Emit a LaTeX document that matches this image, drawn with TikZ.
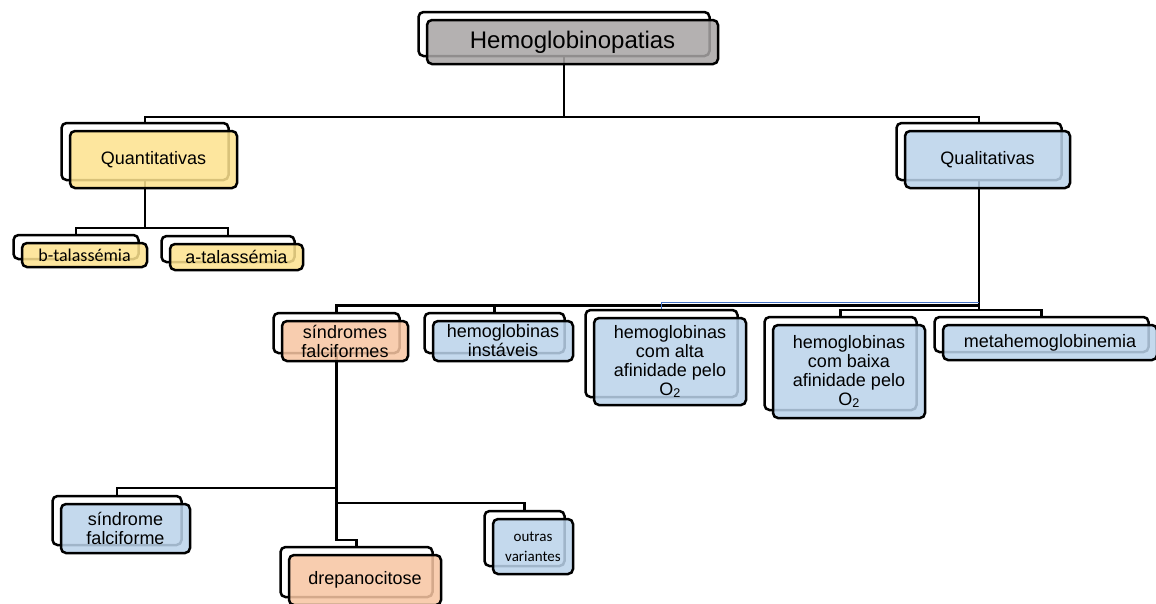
\documentclass[tikz,border=0pt]{standalone}
\usepackage{fontspec}
\setmainfont{Liberation Sans}
\newfontfamily\calibfont{Carlito}
\usetikzlibrary{backgrounds}
\definecolor{cgray}{RGB}{168,165,165}
\definecolor{cyellow}{RGB}{253,227,143}
\definecolor{cblue}{RGB}{187,211,235}
\definecolor{csalmon}{RGB}{247,197,162}
\definecolor{lineblue}{RGB}{68,114,196}
\tikzset{
  backbox/.style={draw=black, line width=2.5pt, fill=white, rounded corners=5pt, inner sep=0pt, outer sep=0pt},
  frontbox/.style={draw=black, line width=2.5pt, rounded corners=5pt, inner sep=0pt, outer sep=0pt,
    fill opacity=0.86, text opacity=1, align=center, font=\fontsize{18}{19}\selectfont},
  conn/.style={draw=black, line width=2.4pt},
  blueconn/.style={draw=lineblue, line width=1.6pt},
}
\newcommand\twobox[7]{%
  \node[backbox, minimum width=#4pt, minimum height=#5pt] (#1B) at (#2-8.5,#3-8) {};
  \node[frontbox, #6, minimum width=#4pt, minimum height=#5pt] (#1) at (#2,#3) {#7};
}
\begin{document}
\begin{tikzpicture}[x=1pt,y=-1pt]
\useasboundingbox (0,0) rectangle (1156,603);

\twobox{hemo}{572.5}{42}{291}{44}{fill=cgray, font=\fontsize{24}{26}\selectfont}{Hemoglobinopatias}
\twobox{quant}{153.5}{159.5}{167}{57}{fill=cyellow}{Quantitativas}
\twobox{qual}{987.5}{159.5}{165}{57}{fill=cblue}{Qualitativas}
\twobox{btal}{84.5}{255}{125}{24}{fill=cyellow, font=\calibfont\fontsize{18}{20}\selectfont}{b-talassémia}
\twobox{atal}{236.5}{257}{133}{26}{fill=cyellow}{a-talassémia}
\twobox{sf}{345}{341}{126}{40}{fill=csalmon}{síndromes\\falciformes}
\twobox{inst}{503}{341}{140}{40}{fill=cblue}{hemoglobinas\\instáveis}
\twobox{alta}{670}{361.5}{152}{87}{fill=cblue}{hemoglobinas\\com alta\\afinidade pelo\\O\textsubscript{2}}
\twobox{baixa}{849}{371.5}{152}{93}{fill=cblue}{hemoglobinas\\com baixa\\afinidade pelo\\O\textsubscript{2}}
\twobox{meta}{1050}{342.5}{214}{35}{fill=cblue}{metahemoglobinemia}
\twobox{sfm}{125.5}{528.5}{129}{49}{fill=cblue}{síndrome\\falciforme}
\twobox{drep}{365}{580}{152}{50}{fill=csalmon}{drepanocitose}
\twobox{outr}{533}{546.5}{80}{55}{fill=cblue, font=\calibfont\fontsize{15}{20}\selectfont}{outras\\variantes}

\begin{pgfonlayer}{background}
\fill[white] (0,0) rectangle (1156,603);
\draw[conn] (hemoB.center) -- (hemoB.center |- 0,117);
\draw[conn] (quantB.north) |- (hemoB.center |- 0,117) -| (qualB.north);
\draw[conn] (quantB.center) -- (quantB.center |- 0,228);
\draw[conn] (btalB.north) |- (quantB.center |- 0,228) -| (atalB.north);
\draw[conn] (qualB.center) -- (qualB.center |- 0,310);
\draw[conn] (sfB.north) |- (qualB.center |- 0,305.5);
\draw[conn] (instB.north) -- (instB.north |- 0,305.5);
\draw[conn] (baixaB.north) |- (qualB.center |- 0,310) -| (metaB.north);
\draw[blueconn] (altaB.north) |- (qualB.center |- 0,302.5);
\draw[conn] (sfB.center) -- (sfB.center |- 0,540) -| (drepB.north);
\draw[conn] (sfmB.north) |- (sfB.center |- 0,488);
\draw[conn] (outrB.north) |- (sfB.center |- 0,503);
\end{pgfonlayer}
\end{tikzpicture}
\end{document}
